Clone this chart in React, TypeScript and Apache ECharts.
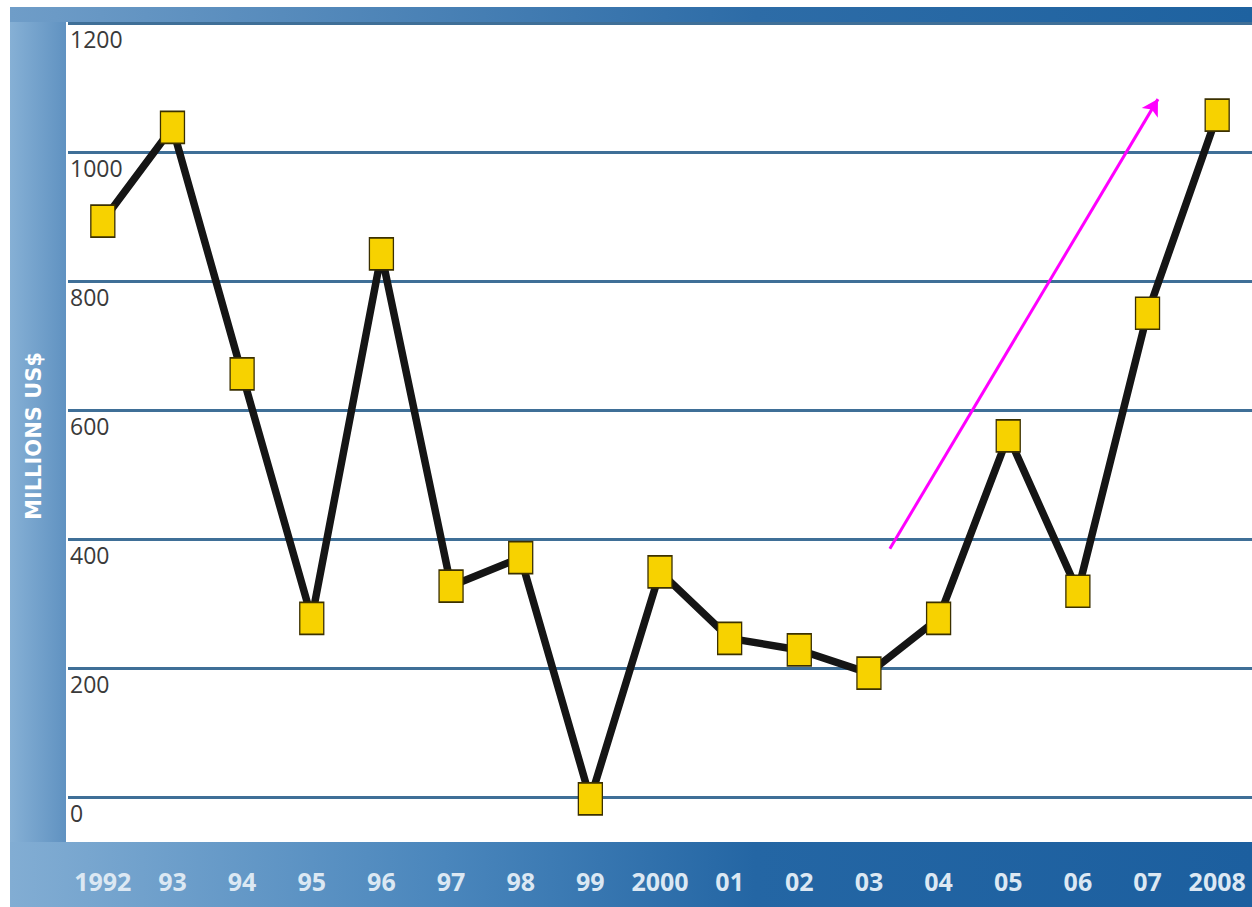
import React, { useEffect, useRef } from "react";
import * as echarts from "echarts";

const years = ["1992", "93", "94", "95", "96", "97", "98", "99", "2000", "01", "02", "03", "04", "05", "06", "07", "2008"];
const values = [893, 1038, 656, 277, 842, 327, 371, -3, 349, 246, 228, 192, 277, 560, 319, 750, 1057];
const yTicks = [0, 200, 400, 600, 800, 1000, 1200];
const arrowStart = [11.3, 385];
const arrowEnd = [15.15, 1082];
const axisTitle = "MILLIONS US$";

export default function App() {
  const ref = useRef<HTMLDivElement>(null);
  useEffect(() => {
    if (!ref.current) return;
    const chart = echarts.init(ref.current, undefined, { renderer: "svg" });
    const W = 1252;
    const H = 907;
    chart.setOption({
      animation: false,
      backgroundColor: "#ffffff",
      graphic: [
        {
          type: "rect",
          z: -10,
          silent: true,
          shape: { x: 10, y: 7, width: 56, height: H - 7 },
          style: {
            fill: new echarts.graphic.LinearGradient(0, 0, 1, 0, [
              { offset: 0, color: "#86b0d5" },
              { offset: 1, color: "#6092c1" },
            ]),
          },
        },
        {
          type: "rect",
          z: -10,
          silent: true,
          shape: { x: 10, y: 7, width: W - 10, height: 15 },
          style: {
            fill: new echarts.graphic.LinearGradient(0, 0, 1, 0, [
              { offset: 0, color: "#6f9dc8" },
              { offset: 0.6, color: "#2d6ca7" },
              { offset: 1, color: "#1e62a0" },
            ]),
          },
        },
        {
          type: "rect",
          z: -10,
          silent: true,
          shape: { x: 10, y: 842, width: W - 10, height: H - 842 },
          style: {
            fill: new echarts.graphic.LinearGradient(0, 0, 1, 0, [
              { offset: 0, color: "#82add3" },
              { offset: 0.35, color: "#4a86bc" },
              { offset: 0.6, color: "#2466a4" },
              { offset: 1, color: "#1c5f9f" },
            ]),
          },
        },
        {
          type: "text",
          silent: true,
          x: 34,
          y: 436,
          rotation: Math.PI / 2,
          style: {
            text: axisTitle,
            fill: "#ffffff",
            font: "bold 21px 'DejaVu Sans'",
            align: "center",
            verticalAlign: "middle",
          },
        },
      ],
      grid: { left: 68, right: 0, top: 23, bottom: 110, containLabel: false },
      xAxis: [
        {
          type: "category",
          data: years,
          boundaryGap: true,
          axisLine: { show: false },
          axisTick: { show: false },
          splitLine: { show: false },
          axisLabel: {
            margin: 71,
            color: "#dce8f3",
            fontFamily: "Open Sans",
            fontWeight: "bold",
            fontSize: 25,
            interval: 0,
          },
        },
        {
          type: "value",
          min: -0.5,
          max: 16.5,
          show: false,
        },
      ],
      yAxis: {
        type: "value",
        min: yTicks[0],
        max: yTicks[yTicks.length - 1],
        interval: 200,
        axisLine: { show: false },
        axisTick: { show: false },
        splitLine: { lineStyle: { color: "#3f6f97", width: 3 } },
        axisLabel: {
          inside: true,
          margin: 2,
          color: "#3a3a3a",
          fontFamily: "Open Sans",
          fontSize: 23,
          verticalAlign: "top",
          padding: [4, 0, 0, 0],
          formatter: (v: number) => String(v),
        },
      },
      series: [
        {
          type: "line",
          data: values,
          clip: false,
          symbol: "rect",
          symbolSize: [24, 32],
          lineStyle: { color: "#151515", width: 7.5 },
          itemStyle: { color: "#f7d200", borderColor: "#3b3000", borderWidth: 1.5 },
          z: 3,
        },
        {
          type: "line",
          xAxisIndex: 1,
          data: [],
          markLine: {
            silent: true,
            symbol: ["none", "arrow"],
            symbolSize: [14, 16],
            label: { show: false },
            lineStyle: { color: "#ff00ff", width: 3, type: "solid" },
            data: [[{ coord: arrowStart }, { coord: arrowEnd }]],
          },
          z: 4,
        },
      ],
    });
    return () => chart.dispose();
  }, []);
  return <div ref={ref} style={{ position: "fixed", left: 0, top: 0, width: 1252, height: 907 }} />;
}
